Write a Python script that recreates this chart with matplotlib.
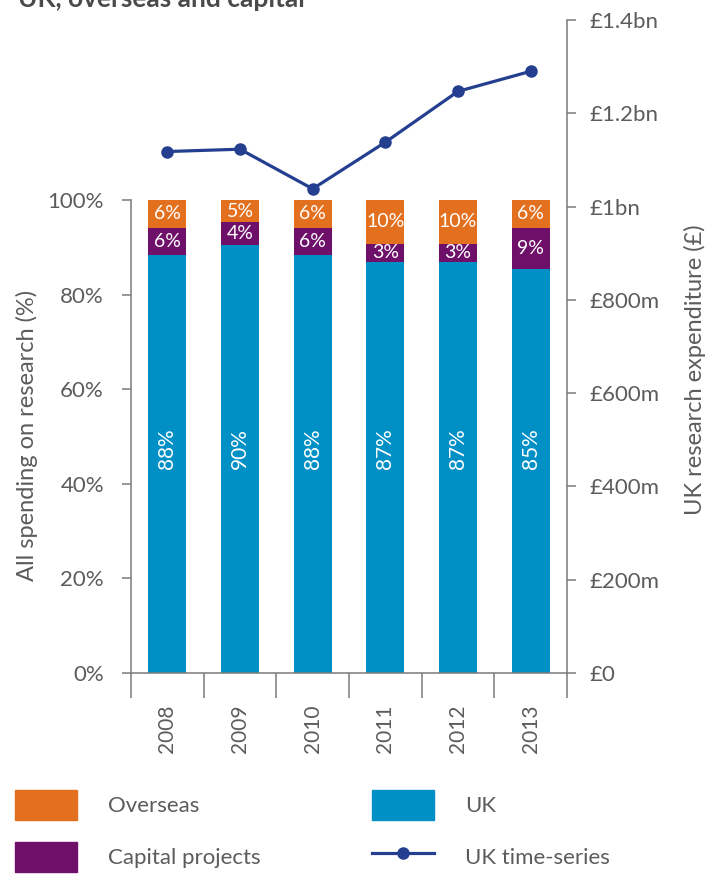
import matplotlib
matplotlib.use("Agg")
import matplotlib.pyplot as plt
from matplotlib.patches import Patch
from matplotlib.lines import Line2D

# Data
years = ["2008", "2009", "2010", "2011", "2012", "2013"]
uk_share = [88.4, 90.5, 88.4, 86.9, 86.9, 85.4]
capital_share = [5.7, 4.8, 5.7, 3.8, 3.8, 8.7]
overseas_share = [5.9, 4.7, 5.9, 9.3, 9.3, 5.9]
uk_labels = ["88%", "90%", "88%", "87%", "87%", "85%"]
capital_labels = ["6%", "4%", "6%", "3%", "3%", "9%"]
overseas_labels = ["6%", "5%", "6%", "10%", "10%", "6%"]
uk_spend_m = [1118, 1123, 1038, 1138, 1247, 1290]  # £m

left_ticks = [0, 20, 40, 60, 80, 100]
right_ticks = [0, 200, 400, 600, 800, 1000, 1200, 1400]
right_labels = ["£0", "£200m", "£400m", "£600m", "£800m", "£1bn", "£1.2bn", "£1.4bn"]

ORANGE = "#E3701E"
PURPLE = "#6E106A"
BLUE = "#0090C6"
LINE = "#243F8F"
GREY = "#5C5C5C"
SPINE = "#7A7A7A"

plt.rcParams["font.family"] = ["Lato", "DejaVu Sans"]
plt.rcParams["text.color"] = GREY

fig = plt.figure(figsize=(7.2, 8.75), dpi=100)
W, H = 720, 875
x0, x1, y0, y1 = 131, 567, 673, 20
ax = fig.add_axes([x0 / W, 1 - y0 / H, (x1 - x0) / W, (y0 - y1) / H])
ax.patch.set_alpha(0)

x = list(range(len(years)))
bw = 0.52
bottoms2 = [u + c for u, c in zip(uk_share, capital_share)]
ax.bar(x, uk_share, bw, color=BLUE, zorder=2)
ax.bar(x, capital_share, bw, bottom=uk_share, color=PURPLE, zorder=2)
ax.bar(x, overseas_share, bw, bottom=bottoms2, color=ORANGE, zorder=2)

for i in x:
    ax.text(i, 47.5, uk_labels[i], rotation=90, ha="center", va="center",
            color="white", fontsize=15, zorder=3)
    ax.text(i, uk_share[i] + capital_share[i] / 2, capital_labels[i], ha="center",
            va="center", color="white", fontsize=14, zorder=3)
    ax.text(i, bottoms2[i] + overseas_share[i] / 2, overseas_labels[i], ha="center",
            va="center", color="white", fontsize=14, zorder=3)

ax.set_xlim(-0.5, len(years) - 0.5)
ax.set_ylim(0, 100 * (y0 - y1) / (y0 - 200))
ax.set_yticks(left_ticks)
ax.set_yticklabels([f"{t}%" for t in left_ticks])
ax.set_xticks(x)
ax.set_xticklabels(years, rotation=90, fontsize=15, color=GREY)
ax.set_xticks([i - 0.5 for i in range(len(years) + 1)], minor=True)
ax.tick_params(axis="x", which="major", length=0, pad=23)
ax.tick_params(axis="x", which="minor", length=18, width=1.1, color=SPINE)
ax.tick_params(axis="y", length=6.5, width=1.1, color=SPINE, labelsize=16,
               labelcolor=GREY, pad=13)
for s in ["top", "right"]:
    ax.spines[s].set_visible(False)
for s in ["left", "bottom"]:
    ax.spines[s].set_color(SPINE)
    ax.spines[s].set_linewidth(1.1)
ax.spines["left"].set_bounds(0, 100)
ax.set_ylabel("All spending on research (%)", fontsize=17, color=GREY)
ax.yaxis.set_label_coords(-0.214, 0.364)

ax2 = ax.twinx()
ax2.plot(x, uk_spend_m, color=LINE, lw=2.3, marker="o", ms=8, zorder=4)
ax2.set_ylim(0, 1400)
ax2.set_yticks(right_ticks)
ax2.set_yticklabels(right_labels)
ax2.tick_params(axis="y", length=6.5, width=1.1, color=SPINE, labelsize=16,
                labelcolor=GREY, pad=10)
for s in ["top", "left", "bottom"]:
    ax2.spines[s].set_visible(False)
ax2.spines["right"].set_color(SPINE)
ax2.spines["right"].set_linewidth(1.1)
ax2.set_ylabel("UK research expenditure (£)", fontsize=17, color=GREY)
ax2.yaxis.set_label_coords(1.268, 0.464)

fig.text(18 / W, 1 - 7 / H, "UK, overseas and capital", fontsize=19,
         fontweight="bold", color="#4A4A4A", va="baseline")

handles = [Patch(color=ORANGE), Patch(color=PURPLE), Patch(color=BLUE),
           Line2D([], [], color=LINE, lw=2.3, marker="o", ms=8)]
names = ["Overseas", "Capital projects", "UK", "UK time-series"]
fig.legend(handles, names, loc="upper left", bbox_to_anchor=(15 / W, 1 - 790 / H),
           ncol=2, frameon=False, fontsize=16, handlelength=2.8, handleheight=1.7,
           handletextpad=1.4, columnspacing=5.0, labelspacing=1.0, borderpad=0,
           borderaxespad=0, labelcolor=GREY)

fig.savefig("out.png", dpi=100)
